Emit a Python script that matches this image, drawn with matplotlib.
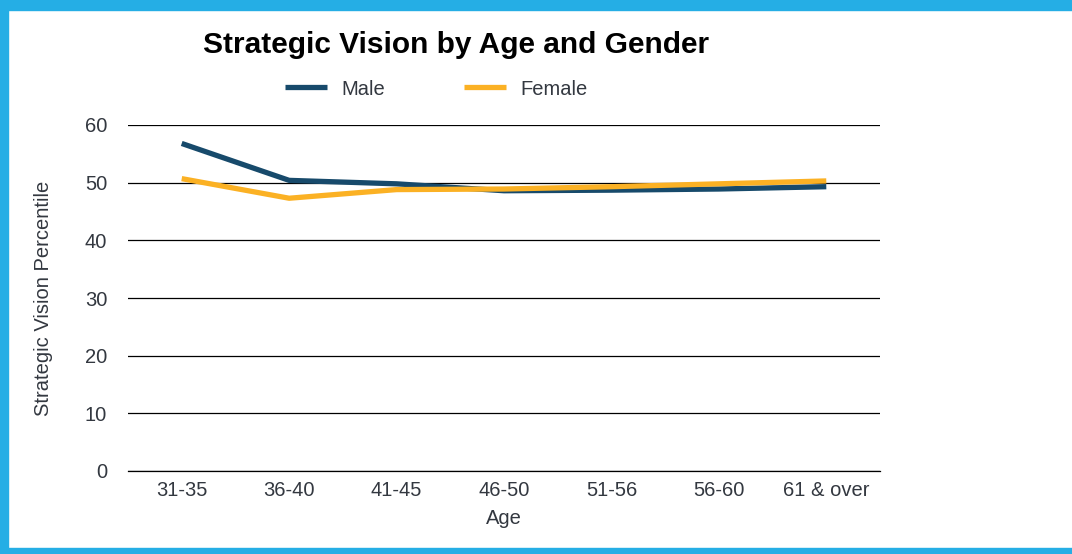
import matplotlib.pyplot as plt
from matplotlib.patches import Rectangle

ages = ["31-35", "36-40", "41-45", "46-50", "51-56", "56-60", "61 & over"]
male = [56.8, 50.4, 49.8, 48.6, 48.7, 48.9, 49.3]
female = [50.7, 47.3, 48.8, 48.9, 49.3, 49.8, 50.3]

plt.rcParams['font.family'] = ['Liberation Sans', 'DejaVu Sans']
txt = '#333840'
fs = 14.5

fig = plt.figure(figsize=(10.72, 5.54), dpi=100)
ax = fig.add_axes([128/1072, 83/554, 752/1072, 346/554])

x = range(len(ages))
l1, = ax.plot(x, male, color='#174a6b', lw=3.8, solid_capstyle='butt', label='Male', zorder=3)
l2, = ax.plot(x, female, color='#fbb124', lw=3.8, solid_capstyle='butt', label='Female', zorder=3)

ax.set_xlim(-0.5, len(ages) - 0.5)
ax.set_ylim(0, 60)
ax.set_yticks(range(0, 61, 10))
ax.set_xticks(list(x))
ax.set_xticklabels(ages)
ax.yaxis.grid(True, color='black', lw=0.9)
ax.set_axisbelow(True)
for s in ['left', 'right', 'top']:
    ax.spines[s].set_visible(False)
ax.spines['bottom'].set_color('black')
ax.spines['bottom'].set_linewidth(0.9)
ax.tick_params(length=0, labelsize=fs, colors=txt)
ax.tick_params(axis='y', pad=15)
ax.tick_params(axis='x', pad=7)
ax.set_xlabel('Age', fontsize=fs, color=txt, labelpad=7)
ax.set_ylabel('Strategic Vision Percentile', fontsize=fs, color=txt, labelpad=23)

fig.text(456/1072, 1 - 45/554, 'Strategic Vision by Age and Gender', ha='center', va='center',
         fontsize=21.5, fontweight='bold', color='black')
fig.legend(handles=[l1, l2], loc='center', bbox_to_anchor=(436/1072, 1 - 89/554), ncol=2,
           frameon=False, fontsize=fs, handlelength=2.1, columnspacing=3.9, handletextpad=0.7,
           labelcolor=txt)

# blue frame
blue = '#25aee5'
fig.patches.append(Rectangle((0, 1 - 10/554), 1, 10/554, transform=fig.transFigure, color=blue))
fig.patches.append(Rectangle((0, 0), 8/1072, 1, transform=fig.transFigure, color=blue))
fig.patches.append(Rectangle((0, 0), 1, 6/554, transform=fig.transFigure, color=blue))

fig.savefig('out.png', dpi=100)
